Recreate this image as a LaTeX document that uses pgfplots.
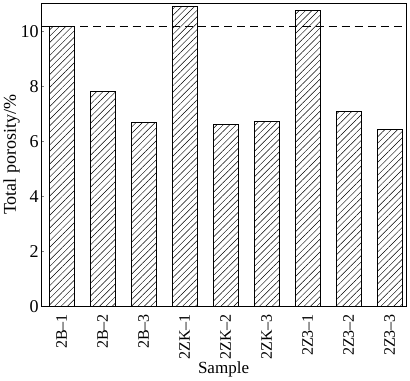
\documentclass[border=0pt]{standalone}
\usepackage{fontspec}
\setmainfont{Liberation Serif}
\usepackage{pgfplots}
\pgfplotsset{compat=1.18}
\usetikzlibrary{patterns.meta}
\begin{document}
\begin{tikzpicture}
\begin{axis}[
  scale only axis,
  width=363bp, height=302bp,
  xmin=-0.5, xmax=8.4,
  ymin=0, ymax=11.02,
  ytick={0,2,4,6,8,10},
  xtick={0,1,2,3,4,5,6,7,8},
  xticklabels={2B–1,2B–2,2B–3,2ZK–1,2ZK–2,2ZK–3,2Z3–1,2Z3–2,2Z3–3},
  x tick label style={rotate=90, anchor=east, font=\fontsize{16}{18}\selectfont, xshift=-1bp},
  y tick label style={font=\fontsize{18}{20}\selectfont, xshift=1bp},
  /pgf/number format/assume math mode=true,
  tick align=inside,
  major tick length=3bp,
  xtick style={draw=none},
  ytick pos=left,
  ylabel={Total porosity/\%},
  xlabel={Sample},
  label style={font=\fontsize{18}{20}\selectfont},
  xlabel style={font=\fontsize{17}{19}\selectfont, yshift=5bp},
  ylabel style={yshift=-6bp},
  axis line style={line width=0.9pt},
  ybar, bar width=25bp,
]
\addplot[draw=black, line width=0.9pt, fill=white, postaction={pattern={Lines[angle=45,distance=4.5bp,line width=0.45pt]}}] coordinates {
(0,10.17) (1,7.80) (2,6.67) (3,10.88) (4,6.61) (5,6.73) (6,10.75) (7,7.07) (8,6.43)
};
\addplot[sharp plot, draw=black, line width=0.7pt, dash pattern=on 8bp off 5bp, forget plot] coordinates {(-0.5,10.18) (8.4,10.18)};
\end{axis}
\path (current axis.north east) ++(4bp,0) coordinate (bbr);
\path[use as bounding box] (current bounding box.south west) rectangle (bbr);
\end{tikzpicture}
\end{document}
